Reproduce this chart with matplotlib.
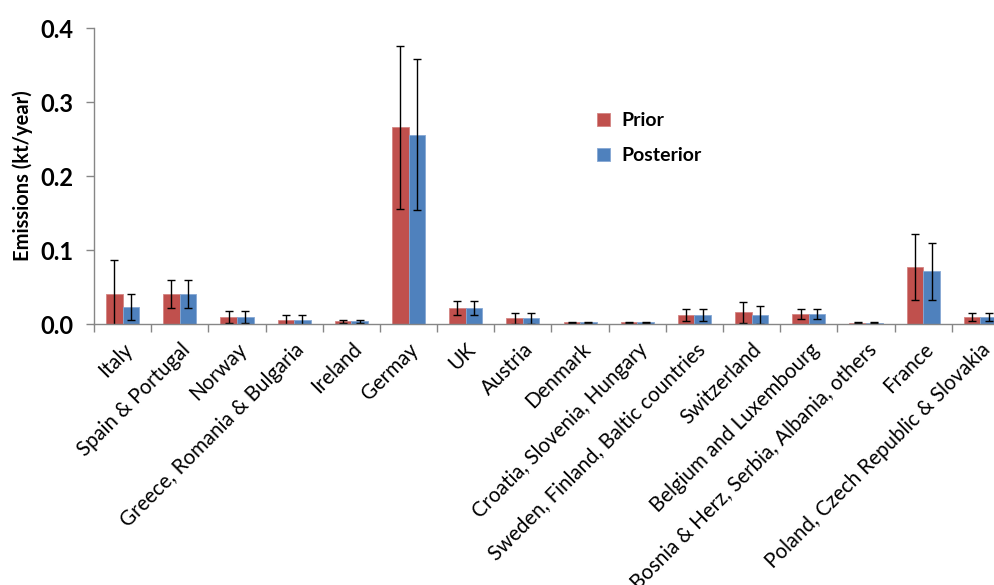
import numpy as np
import matplotlib
matplotlib.use("Agg")
import matplotlib.pyplot as plt
from matplotlib.ticker import FixedLocator, NullFormatter

regions = [
    "Italy", "Spain & Portugal", "Norway", "Greece, Romania & Bulgaria",
    "Ireland", "Germay", "UK", "Austria", "Denmark",
    "Croatia, Slovenia, Hungary", "Sweden, Finland, Baltic countries",
    "Switzerland", "Belgium and Luxembourg",
    "Bosnia & Herz, Serbia, Albania, others", "France",
    "Poland, Czech Republic & Slovakia",
]
prior = [0.041, 0.041, 0.009, 0.005, 0.0036, 0.266, 0.0216, 0.0077, 0.0022,
         0.0022, 0.012, 0.0158, 0.0135, 0.0018, 0.077, 0.0099]
prior_err = [0.045, 0.019, 0.008, 0.0067, 0.002, 0.11, 0.009, 0.0077, 0.0008,
             0.0008, 0.0085, 0.014, 0.0065, 0.0005, 0.044, 0.0055]
posterior = [0.023, 0.041, 0.009, 0.005, 0.0036, 0.256, 0.0216, 0.0077, 0.0022,
             0.0022, 0.012, 0.012, 0.0135, 0.0018, 0.071, 0.0099]
posterior_err = [0.017, 0.019, 0.008, 0.0067, 0.002, 0.102, 0.009, 0.0077, 0.0008,
                 0.0008, 0.0085, 0.012, 0.0065, 0.0005, 0.038, 0.0055]
yticks = [0.0, 0.1, 0.2, 0.3, 0.4]
ytick_labels = ["0.0", "0.1", "0.2", "0.3", "0.4"]

plt.rcParams["font.family"] = ["Lato", "DejaVu Sans"]

fig = plt.figure(figsize=(9.95, 5.85), dpi=100)
ax = fig.add_axes([94 / 995, 1 - 324 / 585, (1009 - 94) / 995, (324 - 28) / 585])

x = np.arange(len(regions)) + 0.5
w = 0.29
red = "#C0504D"
blue = "#4F81BD"
err_kw = dict(ecolor="black", elinewidth=1.0, capsize=3, capthick=1.0)

ax.bar(x - w / 2, prior, w, color=red, edgecolor="#D48583", linewidth=0.6,
       yerr=prior_err, error_kw=err_kw, label="Prior", zorder=2)
ax.bar(x + w / 2, posterior, w, color=blue, edgecolor="#86A8D4", linewidth=0.6,
       yerr=posterior_err, error_kw=err_kw, label="Posterior", zorder=2)

ax.set_xlim(0, len(regions))
ax.set_ylim(0, 0.4)

for side in ("top", "right"):
    ax.spines[side].set_visible(False)
for side in ("left", "bottom"):
    ax.spines[side].set_color("#868686")
    ax.spines[side].set_linewidth(1.0)

ax.set_yticks(yticks)
ax.set_yticklabels(ytick_labels, fontsize=17, fontweight="bold")
ax.tick_params(axis="y", length=6, width=1, color="#868686", pad=9)

# category boundaries carry the tick marks, names sit at the centres
ax.xaxis.set_major_locator(FixedLocator(np.arange(len(regions) + 1)))
ax.xaxis.set_major_formatter(NullFormatter())
ax.tick_params(axis="x", which="major", length=6, width=1, color="#868686")
ax.set_xticks(x, minor=True)
ax.set_xticklabels(regions, minor=True, rotation=45, ha="right",
                   rotation_mode="anchor", fontsize=14.8)
ax.tick_params(axis="x", which="minor", length=0, pad=11)

ax.set_ylabel("Emissions (kt/year)", fontsize=14.5, fontweight="bold", labelpad=5)

ax.legend(loc="upper left", bbox_to_anchor=(597 / 995, 1 - 112 / 585),
          bbox_transform=fig.transFigure, frameon=False, borderpad=0,
          borderaxespad=0, handlelength=0.68, handleheight=0.68,
          handletextpad=0.55, labelspacing=0.95,
          prop={"weight": "bold", "size": 14})

fig.savefig("out.png", dpi=100)
